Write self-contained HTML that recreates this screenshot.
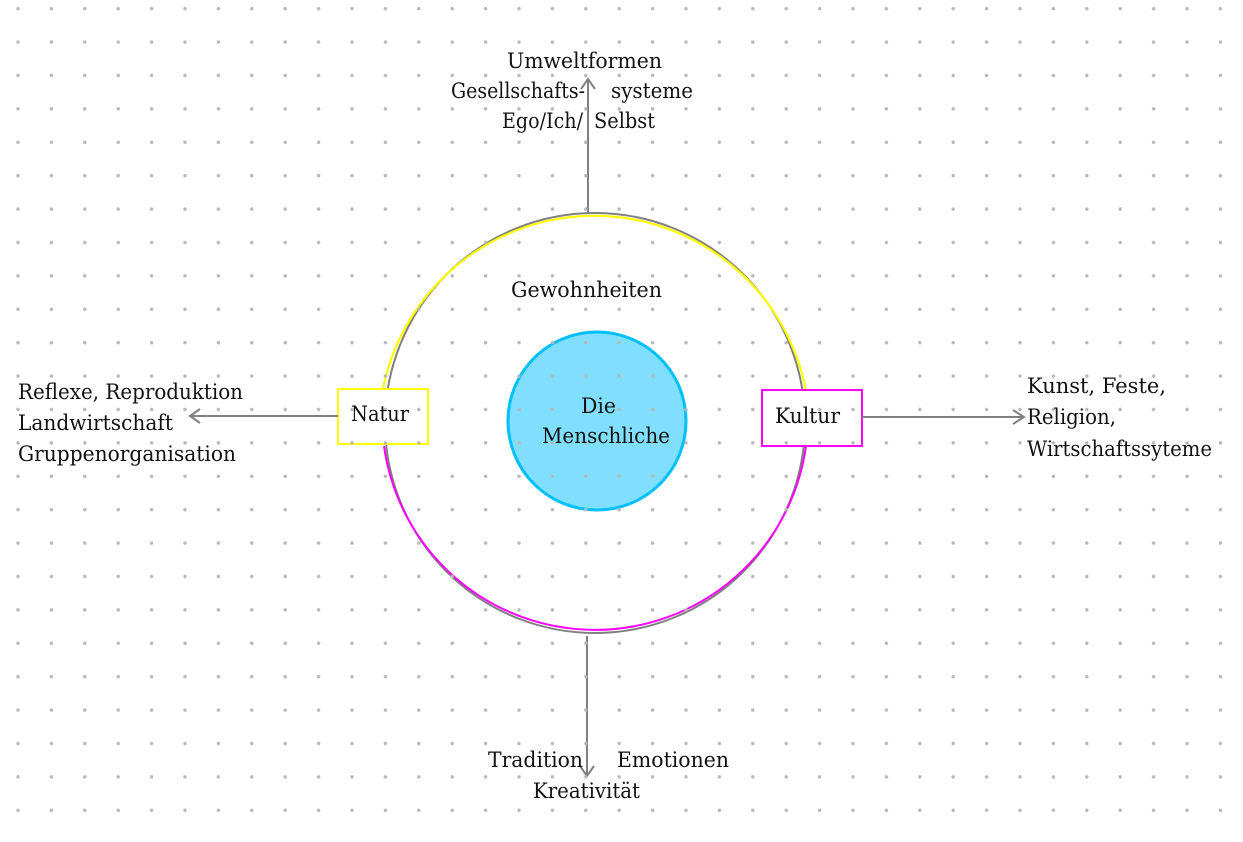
<!DOCTYPE html>
<html><head><meta charset="utf-8"><style>
html,body{margin:0;padding:0;background:#fff;width:1243px;height:842px;overflow:hidden}
svg{display:block}
text{font-family:"DejaVu Serif","Liberation Serif",serif;font-size:21px;fill:#111}
</style></head><body>
<svg width="1243" height="842" viewBox="0 0 1243 842">
<defs>
<pattern id="d" x="1.3" y="-8" width="33.4" height="33.4" patternUnits="userSpaceOnUse">
<circle cx="16.7" cy="16.7" r="1.7" fill="#b8b8b8"/>
</pattern>
</defs>
<!-- main circle -->
<circle cx="595" cy="423" r="210" fill="none" stroke="#808080" stroke-width="2"/>
<path d="M383 389 A215.5 215.5 0 0 1 806 391" fill="none" stroke="#ffff00" stroke-width="2.2"/>
<path d="M384 446 A213 213 0 0 0 806 446" fill="none" stroke="#ff00ff" stroke-width="2"/>
<!-- blue circle -->
<circle cx="597" cy="421" r="89" fill="#80dfff" stroke="#00bfff" stroke-width="3"/>
<!-- boxes -->
<rect x="338" y="389" width="90" height="55" fill="#fff" stroke="#ffff00" stroke-width="2"/>
<rect x="762" y="390" width="100" height="56" fill="#fff" stroke="#ff00ff" stroke-width="2"/>
<!-- arrows -->
<g stroke="#808080" stroke-width="2" fill="none">
<line x1="588" y1="214" x2="588" y2="80"/><polyline points="581,89 588,79 595,89"/>
<line x1="587" y1="636" x2="587" y2="776"/><polyline points="580,766 587,776 594,766"/>
<line x1="338" y1="416" x2="190" y2="416"/><polyline points="200,409 190,416 200,423"/>
<line x1="862" y1="417" x2="1024" y2="417"/><polyline points="1013,410 1024,417 1013,424"/>
</g>
<rect width="1243" height="842" fill="url(#d)"/>
<!-- texts -->
<text x="507" y="68" textLength="155" lengthAdjust="spacingAndGlyphs">Umweltformen</text>
<text x="451" y="98" textLength="134" lengthAdjust="spacingAndGlyphs">Gesellschafts-</text>
<text x="611" y="98" textLength="82" lengthAdjust="spacingAndGlyphs">systeme</text>
<text x="502" y="128" textLength="81" lengthAdjust="spacingAndGlyphs">Ego/Ich/</text>
<text x="594" y="128" textLength="61" lengthAdjust="spacingAndGlyphs">Selbst</text>
<text x="511" y="297" textLength="151" lengthAdjust="spacingAndGlyphs">Gewohnheiten</text>
<text x="581" y="413" textLength="35" lengthAdjust="spacingAndGlyphs">Die</text>
<text x="542" y="443" textLength="128" lengthAdjust="spacingAndGlyphs">Menschliche</text>
<text x="351" y="421" textLength="58" lengthAdjust="spacingAndGlyphs">Natur</text>
<text x="775" y="423" textLength="65" lengthAdjust="spacingAndGlyphs">Kultur</text>
<text x="18" y="399" textLength="225" lengthAdjust="spacingAndGlyphs">Reflexe, Reproduktion</text>
<text x="18" y="430" textLength="155" lengthAdjust="spacingAndGlyphs">Landwirtschaft</text>
<text x="18" y="461" textLength="218" lengthAdjust="spacingAndGlyphs">Gruppenorganisation</text>
<text x="1027" y="393" textLength="139" lengthAdjust="spacingAndGlyphs">Kunst, Feste,</text>
<text x="1027" y="424" textLength="89" lengthAdjust="spacingAndGlyphs">Religion,</text>
<text x="1027" y="456" textLength="185" lengthAdjust="spacingAndGlyphs">Wirtschaftssyteme</text>
<text x="488" y="767" textLength="95" lengthAdjust="spacingAndGlyphs">Tradition</text>
<text x="617" y="767" textLength="112" lengthAdjust="spacingAndGlyphs">Emotionen</text>
<text x="533" y="798" textLength="107" lengthAdjust="spacingAndGlyphs">Kreativität</text>
</svg>
</body></html>
